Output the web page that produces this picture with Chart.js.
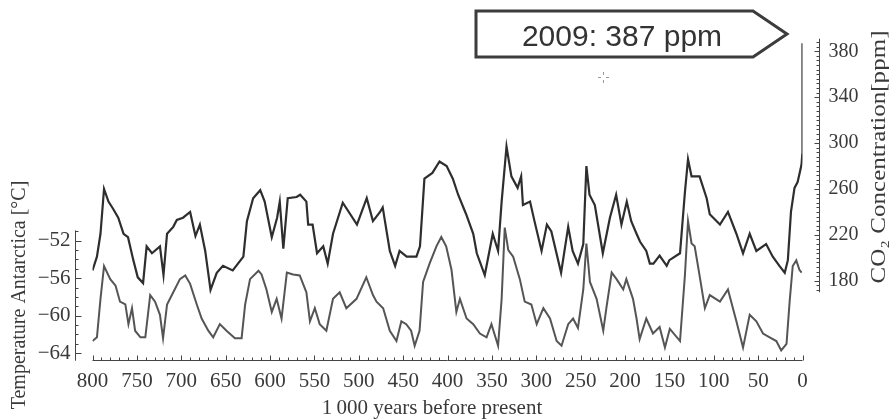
<!DOCTYPE html>
<html lang="en">
<head>
<meta charset="UTF-8">
<title>CO2 and Antarctic temperature over 800 000 years</title>
<script src="https://cdn.jsdelivr.net/npm/chart.js"></script>
<style>
  html, body { margin: 0; padding: 0; background: #fff; }
  canvas { display: block; }
</style>
</head>
<body>
<canvas id="iceCore" width="889" height="420"></canvas>
<script>
// ages are in thousand years before present
const yearTicks = [800, 750, 700, 650, 600, 550, 500, 450, 400, 350, 300, 250, 200, 150, 100, 50, 0];
const tempTicks = [-64, -60, -56, -52];
const co2Ticks = [180, 220, 260, 300, 340, 380];

const co2Age = [800, 795, 791, 787, 782, 777, 771, 765, 760, 754, 749, 743, 739, 733, 724, 720, 716, 709, 705, 698,
  690, 684, 679, 673, 667, 660, 653, 642, 630, 626, 619, 611, 606, 598, 592, 589, 585, 580, 570, 566,
  559, 557, 552, 547, 540, 535, 529, 518, 502, 491, 484, 476, 473, 465, 459, 454, 446, 435, 431, 426,
  417, 409, 401, 394, 388, 379, 371, 367, 358, 349, 343, 339, 333.5, 328, 321, 317, 315, 307, 302, 294,
  288, 283, 272, 264, 259, 253, 247, 243.5, 240, 234, 225, 217, 210, 204, 198, 193, 187, 183, 176, 172,
  168, 161, 153, 150, 138, 132.5, 129, 125, 116, 108, 104.5, 93, 84, 74.5, 67, 59.5, 52, 41, 33.5, 26,
  20, 16.5, 13, 9, 5.5, 2, 1, 0.3, 0];
const co2Ppm = [189, 201, 221, 260, 249, 243, 235, 221, 218, 198, 183, 178, 210, 204, 210, 185, 221, 227, 233, 235,
  240, 219, 229, 206, 172, 187, 193, 189, 201, 232, 252, 259, 249, 218, 235, 249, 208, 252, 253, 255,
  249, 229, 229, 204, 210, 195, 221, 248, 229, 252, 232, 240, 244, 206, 193, 206, 201, 201, 210, 269,
  274, 284, 280, 269, 255, 238, 221, 204, 185, 221, 206, 249, 297, 271, 261, 271, 246, 249, 232, 206,
  229, 223, 187, 227, 206, 195, 212, 280, 255, 246, 204, 235, 255, 229, 249, 232, 221, 214, 206, 195,
  195, 202, 193, 198, 204, 257, 286, 271, 271, 252, 238, 229, 240, 221, 204, 221, 206, 212, 201, 193,
  187, 198, 240, 261, 266, 278, 282, 290, 387];

const tempAge = [800, 795, 791, 787, 780, 774, 769, 763, 759.5, 755.5, 752, 746, 740.5, 735, 729.5, 724, 720.5, 716, 709, 701.5,
  695.5, 690, 682.5, 677, 669.5, 664, 656.5, 649, 639.5, 632, 628, 622.5, 613, 609.5, 604, 598, 592.5, 587, 581, 574,
  566.5, 559, 555, 549.5, 544, 536.5, 529, 521.5, 514, 502.5, 491.5, 484, 480, 472.5, 465, 457.5, 452, 446.5, 441, 437,
  431.5, 427.5, 420, 412.5, 407, 401.5, 395.5, 390, 386, 378.5, 371, 363.5, 356, 350.5, 343, 339, 335.5, 331.5, 326, 318.5,
  313, 305.5, 299.5, 292, 284.5, 277, 271.5, 264, 258.5, 253, 247, 243.5, 239.5, 232, 224.5, 221, 215, 209.5, 202, 198.5,
  191, 187, 183.5, 176, 168.5, 161, 155, 149.5, 138, 132.5, 129, 125, 121.5, 116, 110, 104.5, 93, 84, 74.5, 67,
  59.5, 52, 44.5, 37, 29.5, 24, 18, 14.5, 11, 7, 3.5, 1];
const tempC = [-62.7, -62.3, -58.2, -54.7, -56.1, -56.8, -58.5, -58.8, -60.9, -59.2, -61.6, -62.3, -62.3, -57.8, -58.5, -59.9, -62.4, -58.8, -57.5, -56.1,
  -55.7, -56.6, -58.8, -60.3, -61.6, -62.3, -60.9, -61.6, -62.4, -62.4, -58.8, -56.1, -55.2, -55.6, -57.2, -59.6, -58.2, -60.3, -55.4, -55.6,
  -55.7, -57.5, -60.6, -59.2, -60.9, -61.6, -58.2, -57.5, -59.2, -58.2, -55.9, -57.8, -58.5, -59.2, -61.6, -62.7, -60.6, -60.9, -61.6, -63.2,
  -61.6, -56.4, -54.4, -52.6, -51.6, -52.6, -55.1, -59.6, -58.2, -60.3, -60.9, -61.9, -62.3, -60.9, -63.2, -58.2, -50.6, -53.0, -53.7, -56.1,
  -58.5, -58.8, -60.9, -59.2, -60.3, -62.7, -63.2, -60.9, -60.3, -61.3, -57.2, -52.3, -56.4, -58.2, -61.6, -59.2, -55.4, -56.1, -57.2, -56.1,
  -58.2, -60.3, -62.5, -60.3, -61.9, -61.2, -63.4, -61.4, -62.7, -55.7, -49.9, -52.3, -52.6, -55.7, -59.2, -57.8, -58.5, -57.2, -60.6, -63.4,
  -59.9, -60.6, -61.9, -62.3, -62.7, -63.7, -63.0, -58.5, -54.7, -54.1, -55.1, -55.4];

const ink = '#3a3a3a';
const serif = '"Liberation Serif", "Times New Roman", serif';

function pairs(xs, ys) {
  return xs.map((x, i) => ({ x: x, y: ys[i] }));
}

// axis lines with inward ticks, titles and the 2009 callout
const decorations = {
  id: 'decorations',
  afterDraw(chart) {
    const ctx = chart.ctx;
    const sx = chart.scales.x;
    const st = chart.scales.yTemp;
    const sc = chart.scales.yCO2;
    ctx.save();
    ctx.strokeStyle = '#444';
    ctx.lineWidth = 1;

    // time axis
    const by = Math.round(chart.chartArea.bottom) - 0.5;
    ctx.beginPath();
    ctx.moveTo(sx.getPixelForValue(800), by);
    ctx.lineTo(sx.getPixelForValue(0), by);
    for (let v = 0; v <= 800; v += 10) {
      const px = Math.round(sx.getPixelForValue(v)) + 0.5;
      ctx.moveTo(px, by);
      ctx.lineTo(px, by - (v % 50 === 0 ? 5 : 3));
    }
    ctx.stroke();

    // temperature axis
    const lx = 75.5;
    ctx.beginPath();
    ctx.moveTo(lx, st.getPixelForValue(-50.9));
    ctx.lineTo(lx, st.getPixelForValue(-64.8));
    for (let v = -64; v <= -51; v += 1) {
      const py = Math.round(st.getPixelForValue(v)) + 0.5;
      ctx.moveTo(lx, py);
      ctx.lineTo(lx + (v % 4 === 0 ? 6 : 3), py);
    }
    ctx.stroke();

    // CO2 axis
    const rx = 819.5;
    ctx.beginPath();
    ctx.moveTo(rx, sc.getPixelForValue(391));
    ctx.lineTo(rx, sc.getPixelForValue(170));
    for (let v = 172; v <= 388; v += 4) {
      const py = Math.round(sc.getPixelForValue(v)) + 0.5;
      ctx.moveTo(rx, py);
      ctx.lineTo(rx - (v % 40 === 20 ? 5 : 3), py);
    }
    ctx.stroke();

    // titles
    ctx.fillStyle = ink;
    ctx.textAlign = 'center';
    ctx.textBaseline = 'middle';
    ctx.font = '21px ' + serif;
    ctx.fillText('1\u2009000 years before present', 432, 408);

    ctx.save();
    ctx.font = '20px ' + serif;
    ctx.translate(20, 295);
    ctx.rotate(-Math.PI / 2);
    ctx.fillText('Temperature Antarctica [\u00b0C]', 0, 0);
    ctx.restore();

    // the CO2 title is set in a wide face: stretch it over its full length
    ctx.save();
    const co2Title = 'CO\u2082 Concentration[ppm]';
    ctx.font = '20px ' + serif;
    const tw = ctx.measureText(co2Title).width;
    ctx.translate(880, 157);
    ctx.rotate(-Math.PI / 2);
    ctx.scale(253 / tw, 1);
    ctx.fillText(co2Title, 0, 0);
    ctx.restore();

    // callout arrow box
    ctx.strokeStyle = '#3c3c3c';
    ctx.lineWidth = 3;
    ctx.lineJoin = 'miter';
    ctx.beginPath();
    ctx.moveTo(476, 11);
    ctx.lineTo(753, 11);
    ctx.lineTo(787, 34);
    ctx.lineTo(753, 57);
    ctx.lineTo(476, 57);
    ctx.closePath();
    ctx.stroke();
    ctx.fillStyle = '#333';
    ctx.font = '30px "Liberation Sans", Arial, sans-serif';
    ctx.textBaseline = 'alphabetic';
    ctx.fillText('2009: 387 ppm', 622, 46);

    // small dashed cross below the callout
    ctx.strokeStyle = '#999';
    ctx.lineWidth = 1;
    ctx.beginPath();
    ctx.moveTo(598, 77.5); ctx.lineTo(601, 77.5);
    ctx.moveTo(606, 77.5); ctx.lineTo(609, 77.5);
    ctx.moveTo(603.5, 72); ctx.lineTo(603.5, 75);
    ctx.moveTo(603.5, 80); ctx.lineTo(603.5, 83);
    ctx.stroke();
    ctx.restore();
  }
};

new Chart(document.getElementById('iceCore'), {
  type: 'line',
  data: {
    datasets: [
      {
        label: 'CO2',
        data: pairs(co2Age, co2Ppm),
        yAxisID: 'yCO2',
        borderColor: '#2e2e2e',
        borderWidth: 2.2,
        pointRadius: 0,
        tension: 0
      },
      {
        label: 'Temperature',
        data: pairs(tempAge, tempC),
        yAxisID: 'yTemp',
        borderColor: '#555',
        borderWidth: 2,
        pointRadius: 0,
        tension: 0
      }
    ]
  },
  options: {
    responsive: false,
    animation: false,
    devicePixelRatio: 1,
    layout: { padding: { top: 28, bottom: 0, left: 0, right: 0 } },
    plugins: { legend: { display: false }, tooltip: { enabled: false } },
    scales: {
      x: {
        type: 'linear',
        reverse: true,
        min: 0,
        max: 800,
        grid: { display: false, drawTicks: false },
        border: { display: false },
        afterBuildTicks: s => { s.ticks = yearTicks.map(v => ({ value: v })); },
        afterFit: s => { s.height = 59; },
        ticks: { color: ink, font: { family: serif, size: 21 }, padding: 8, maxRotation: 0, autoSkip: false }
      },
      yTemp: {
        position: 'left',
        min: -64.83,
        max: -30.38,
        grid: { display: false, drawTicks: false },
        border: { display: false },
        afterBuildTicks: s => { s.ticks = tempTicks.map(v => ({ value: v })); },
        afterFit: s => { s.width = 92.5; },
        ticks: {
          color: ink,
          font: { family: serif, size: 21 },
          padding: 22,
          callback: v => '\u2212' + Math.abs(v)
        }
      },
      yCO2: {
        position: 'right',
        min: 110.1,
        max: 391.6,
        grid: { display: false, drawTicks: false },
        border: { display: false },
        afterBuildTicks: s => { s.ticks = co2Ticks.map(v => ({ value: v })); },
        afterFit: s => { s.width = 86.5; },
        ticks: { color: ink, font: { family: serif, size: 20 }, padding: 26 }
      }
    }
  },
  plugins: [decorations]
});
</script>
</body>
</html>
